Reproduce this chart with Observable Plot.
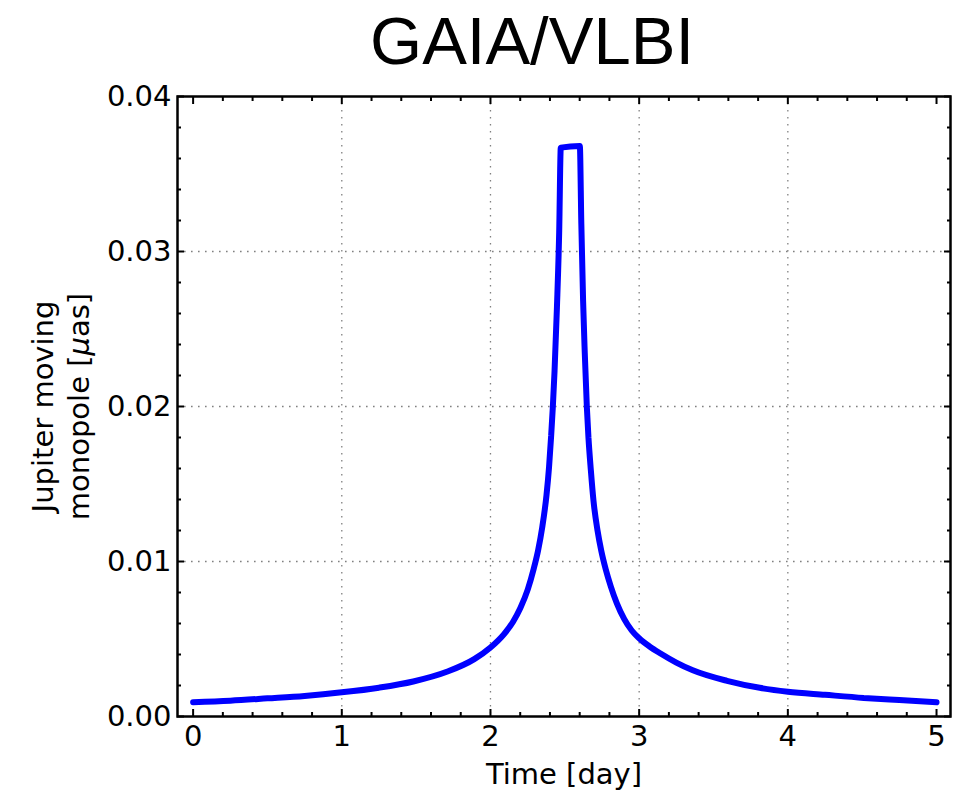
<!DOCTYPE html>
<html><head><meta charset="utf-8">
<script src="https://cdn.jsdelivr.net/npm/d3@7"></script>
<script src="https://cdn.jsdelivr.net/npm/@observablehq/plot@0.6"></script>
<style>body{margin:0;background:#fff} svg{display:block}</style>
</head><body><div id="chart"></div>
<script>
const title = "GAIA/VLBI";
const xLabel = "Time [day]";
const yLabelLines = ["Jupiter moving", "monopole [μas]"];

// Time [day]
const times = [0, 0.25, 0.5, 0.75, 1.0, 1.25, 1.481, 1.711, 1.891, 2.0, 2.09, 2.151, 2.201, 2.251, 2.29, 2.32, 2.348, 2.377, 2.394, 2.408, 2.419, 2.431, 2.447, 2.462, 2.473,
  2.601, 2.611, 2.623, 2.634, 2.648, 2.659, 2.675, 2.693, 2.72, 2.745, 2.775, 2.809, 2.85, 2.899, 2.95, 3.0, 3.07, 3.141, 3.25, 3.361, 3.591, 3.811, 4.0, 4.25, 4.511, 4.75, 5.0];
// Jupiter moving monopole [μas]
const values = [0.00092, 0.00102, 0.00117, 0.00133, 0.00156, 0.00186, 0.00226, 0.0029, 0.0037, 0.00445, 0.0053, 0.0061, 0.0070, 0.0082, 0.0095, 0.0107, 0.0122, 0.0143, 0.0161, 0.0181, 0.0199, 0.0223, 0.0264, 0.0312, 0.0367,
  0.0368, 0.0318, 0.0268, 0.0235, 0.0200, 0.0180, 0.0159, 0.0139, 0.0120, 0.0107, 0.0095, 0.0084, 0.0073, 0.0063, 0.00555, 0.00505, 0.00452, 0.00408, 0.00348, 0.00298, 0.0023, 0.00185, 0.0016, 0.0014, 0.0012, 0.00106, 0.00092];

const xMajor = [0, 1, 2, 3, 4, 5];
const xMinor = d3.range(0, 26).map(i => i / 5).filter(v => !Number.isInteger(v));
const yMajor = [0, 0.01, 0.02, 0.03, 0.04];
const yMinor = d3.range(0, 21).map(i => i * 0.002).filter((v, i) => i % 5 !== 0);
const xGrid = [1, 2, 3, 4];
const yGrid = [0.01, 0.02, 0.03];

const data = times.map((t, i) => ({t, v: values[i]}));

const gridStyle = {stroke: "#808080", strokeOpacity: 1, strokeWidth: 1.3, strokeDasharray: "1.6,5.4"};
const tickStyle = {fill: "none", label: null, strokeWidth: 2};

const plot = Plot.plot({
  width: 962, height: 794,
  marginTop: 96, marginBottom: 78, marginLeft: 177, marginRight: 12,
  style: {fontFamily: "DejaVu Sans", fontSize: "29px", background: "white", color: "black"},
  x: {domain: [-0.105, 5.094]},
  y: {domain: [0, 0.04]},
  marks: [
    Plot.gridX(xGrid, gridStyle),
    Plot.gridY(yGrid, gridStyle),
    Plot.line(data, {x: "t", y: "v", stroke: "#0000ff", strokeWidth: 6, curve: "monotone-x", strokeLinejoin: "miter"}),
    Plot.axisX(xMajor, {anchor: "bottom", tickSize: 0, tickPadding: 9, tickFormat: d => String(d), label: null, fontSize: 29}),
    Plot.axisY(yMajor, {anchor: "left", tickSize: 0, tickPadding: 6, tickFormat: d3.format(".2f"), label: null, fontSize: 29}),
    Plot.axisX(xMajor, {anchor: "bottom", tickSize: -7, ...tickStyle}),
    Plot.axisX(xMinor, {anchor: "bottom", tickSize: -4, ...tickStyle}),
    Plot.axisX(xMajor, {anchor: "top", tickSize: -7, ...tickStyle}),
    Plot.axisX(xMinor, {anchor: "top", tickSize: -4, ...tickStyle}),
    Plot.axisY(yMajor, {anchor: "left", tickSize: -7, ...tickStyle}),
    Plot.axisY(yMinor, {anchor: "left", tickSize: -4, ...tickStyle}),
    Plot.axisY(yMajor, {anchor: "right", tickSize: -7, ...tickStyle}),
    Plot.axisY(yMinor, {anchor: "right", tickSize: -4, ...tickStyle}),
    Plot.frame({stroke: "black", strokeWidth: 2.5}),
    Plot.text([title], {text: d => d, frameAnchor: "top", dx: -32, dy: -32.5, lineAnchor: "bottom", fontFamily: "Liberation Sans", fontSize: 67, fill: "black"}),
    Plot.text([xLabel], {text: d => d, frameAnchor: "bottom", dy: 67.6, lineAnchor: "bottom", fontSize: 29, fill: "black"}),
    Plot.text([yLabelLines.join("\n")], {text: d => d, frameAnchor: "left", dx: -89, rotate: -90, textAnchor: "middle", lineAnchor: "bottom", lineHeight: 1.24, fontSize: 29, fill: "black"})
  ]
});

// italic μ as in the reference
d3.select(plot).selectAll("tspan").each(function() {
  if (this.textContent.includes("μ")) {
    this.innerHTML = 'monopole [<tspan font-style="italic">μ</tspan>as]';
  }
});

document.getElementById("chart").appendChild(plot);
</script>
</body></html>
